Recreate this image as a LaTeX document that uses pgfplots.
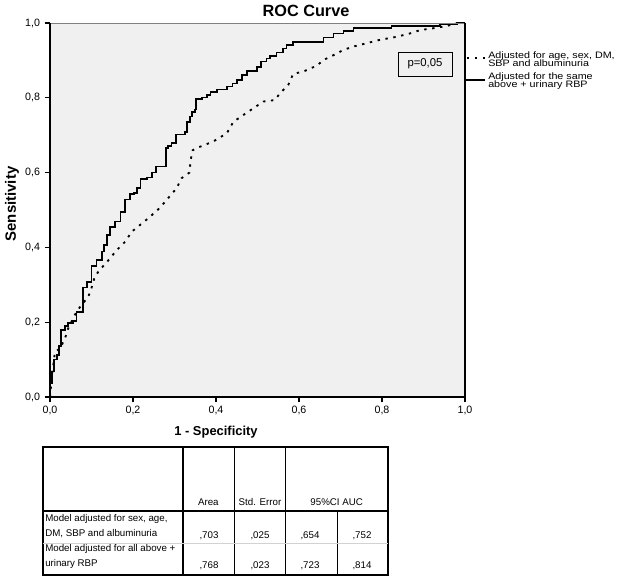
\documentclass[border=0pt]{standalone}
\usepackage{fontspec}
\setmainfont{Liberation Sans}
\usepackage{pgfplots}
\pgfplotsset{compat=1.18}
\usepackage{graphicx}
\definecolor{plotbg}{RGB}{240,240,240}
\begin{document}
\begin{tikzpicture}
\begin{axis}[at={(37.5pt,-297.75pt)}, anchor=south west, scale only axis,
  width=311.25pt, height=280.5pt,
  xmin=0, xmax=1, ymin=0, ymax=1, clip=false,
  axis background/.style={fill=plotbg},
  axis line style={draw=none},
  xtick={0,0.2,0.4,0.6,0.8,1}, ytick={0,0.2,0.4,0.6,0.8,1},
  xtick pos=bottom, ytick pos=left, tick align=outside,
  major tick length=4pt,
  tick style={black, line width=0.8pt},
  ticklabel style={font=\fontsize{8}{9}\selectfont},
  /pgf/number format/fixed, /pgf/number format/fixed zerofill,
  /pgf/number format/precision=1, /pgf/number format/use comma,
  /pgf/number format/assume math mode=true,
  xticklabel style={yshift=1pt},
]
\addplot[const plot, black, line width=1.3pt, line join=miter] coordinates {
(0,0) (0,0.038) (0.004,0.068) (0.010,0.100) (0.016,0.112) (0.022,0.137)
(0.027,0.180) (0.036,0.190) (0.044,0.198) (0.055,0.204) (0.064,0.228)
(0.079,0.293) (0.090,0.308) (0.100,0.350) (0.112,0.366) (0.125,0.389)
(0.130,0.406) (0.138,0.433) (0.145,0.455) (0.157,0.469) (0.170,0.495)
(0.181,0.528) (0.193,0.542) (0.203,0.546) (0.210,0.558) (0.218,0.582)
(0.233,0.587) (0.245,0.600) (0.255,0.616) (0.280,0.665) (0.285,0.672)
(0.293,0.680) (0.303,0.702) (0.325,0.709) (0.331,0.736) (0.337,0.750)
(0.343,0.763) (0.349,0.769) (0.352,0.796) (0.366,0.801) (0.378,0.807)
(0.387,0.816) (0.402,0.822) (0.426,0.830) (0.440,0.838) (0.451,0.848)
(0.462,0.861) (0.474,0.872) (0.498,0.883) (0.508,0.897) (0.522,0.905)
(0.530,0.912) (0.546,0.921) (0.562,0.932) (0.570,0.941) (0.586,0.949)
(0.659,0.961) (0.683,0.972) (0.707,0.978) (0.731,0.986) (0.823,0.992)
(0.940,0.997) (0.980,1.000) (1,1)
};
\addplot[black, line width=1.4pt, dash pattern=on 1.8pt off 4.2pt] coordinates {
(0,0) (0.005,0.060) (0.012,0.121) (0.025,0.130) (0.038,0.163) (0.044,0.184)
(0.064,0.228) (0.072,0.240) (0.092,0.268) (0.098,0.284) (0.108,0.322)
(0.120,0.340) (0.138,0.362) (0.161,0.393) (0.181,0.415) (0.197,0.442)
(0.217,0.460) (0.237,0.478) (0.265,0.506) (0.281,0.527) (0.305,0.558)
(0.317,0.585) (0.336,0.600) (0.339,0.634) (0.344,0.660) (0.361,0.669)
(0.393,0.683) (0.426,0.705) (0.442,0.736) (0.474,0.760) (0.514,0.790)
(0.542,0.794) (0.554,0.812) (0.574,0.834) (0.586,0.864) (0.610,0.870)
(0.643,0.886) (0.659,0.901) (0.683,0.914) (0.707,0.928) (0.731,0.937)
(0.763,0.946) (0.795,0.955) (0.835,0.963) (0.867,0.972) (0.892,0.981)
(0.924,0.986) (0.956,0.992) (0.980,0.999) (1,1)
};
\draw[gray, line width=0.7pt] (rel axis cs:0,1) -- (rel axis cs:1,1);
\draw[black, line width=1pt] (rel axis cs:1,0) -- (rel axis cs:1,1);
\draw[black, line width=1.3pt] (rel axis cs:0,1) -- (rel axis cs:0,0) -- (rel axis cs:1,0);
\end{axis}
\begin{scope}[x=0.75pt,y=-0.75pt]
\useasboundingbox (0,0) rectangle (625,585);
% titles
\node[font=\fontsize{12.2}{14}\selectfont\bfseries] at (306,11) {ROC Curve};
\node[rotate=90, font=\fontsize{11.2}{13}\selectfont\bfseries] at (12,204) {Sensitivity};
\node[font=\fontsize{9.7}{11}\selectfont\bfseries] at (216,432) {1 - Specificity};
% p box
\node[draw=black, line width=0.6pt, minimum width=40.5pt, minimum height=18pt,
      font=\fontsize{8.5}{10}\selectfont] at (425,64) {p=0,05};
% legend
\draw[black, line width=1.3pt, dash pattern=on 1.8pt off 4.2pt] (467,58.3) -- (487,58.3);
\draw[black, line width=0.9pt] (465,80) -- (485,80);
\begin{scope}[every node/.style={anchor=base west, inner sep=0pt, font=\fontsize{7}{7}\selectfont}]
\node at (488,58.3) {\scalebox{1.15}[1]{Adjusted for age, sex, DM,}};
\node at (488,66.7) {\scalebox{1.15}[1]{SBP and albuminuria}};
\node at (488,79.3) {\scalebox{1.15}[1]{Adjusted for the same}};
\node at (488,87.7) {\scalebox{1.15}[1]{above + urinary RBP}};
\end{scope}
% table
\draw[line width=1.4pt] (43.3,446.7) rectangle (388.3,575);
\draw[line width=1.4pt] (183.3,446.7) -- (183.3,575);
\draw[line width=1.4pt] (43.3,510.7) -- (388.3,510.7);
\draw[line width=0.8pt] (234.3,446.7) -- (234.3,575);
\draw[line width=0.8pt] (285.7,446.7) -- (285.7,575);
\draw[line width=0.8pt] (337.3,510.7) -- (337.3,575);
\draw[gray!35, line width=0.6pt] (43.3,543.3) -- (388.3,543.3);
\begin{scope}[every node/.style={anchor=base, inner sep=0pt, font=\fontsize{7.3}{8}\selectfont}]
\node at (208.3,505) {Area};
\node at (260,505) {Std. Error};
\node at (336.7,505) {95\%CI AUC};
\node at (209,538.3) {,703};
\node at (260,538.3) {,025};
\node at (310,538.3) {,654};
\node at (362,538.3) {,752};
\node at (209,568.3) {,768};
\node at (260,568.3) {,023};
\node at (310,568.3) {,723};
\node at (362,568.3) {,814};
\end{scope}
\begin{scope}[every node/.style={anchor=base west, inner sep=0pt, font=\fontsize{7.3}{8}\selectfont}]
\node at (45,521) {Model adjusted for sex, age,};
\node at (45,536.7) {DM, SBP and albuminuria};
\node at (45,551.7) {Model adjusted for all above +};
\node at (45,566.7) {urinary RBP};
\end{scope}
\end{scope}
\end{tikzpicture}
\end{document}
